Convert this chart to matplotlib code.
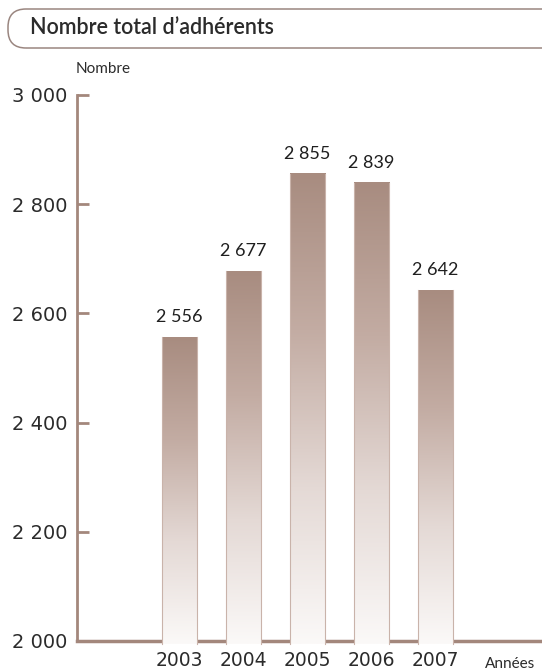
import numpy as np
import matplotlib.pyplot as plt
from matplotlib.patches import FancyBboxPatch, Rectangle
from matplotlib.transforms import IdentityTransform
from matplotlib.colors import LinearSegmentedColormap

# données
years = ['2003', '2004', '2005', '2006', '2007']
members = [2556, 2677, 2855, 2839, 2642]
yticks = [2000, 2200, 2400, 2600, 2800, 3000]
ytick_labels = ['2 000', '2 200', '2 400', '2 600', '2 800', '3 000']

brown = '#a3877c'
text_col = '#2b2b2b'

fig = plt.figure(figsize=(5.42, 6.72), dpi=100)
ax = fig.add_axes([77 / 542, 1 - 641 / 672, 463 / 542, 546 / 672])

# dégradé des barres (haut foncé -> bas presque blanc)
cmap = LinearSegmentedColormap.from_list('bar', ['#fbf9f8', '#e4d9d5', '#c3aca3', '#a88c80'])
grad = np.linspace(0, 1, 256).reshape(-1, 1)
x = np.arange(len(years))
w = 0.547
for xi, v in zip(x, members):
    ax.imshow(grad, cmap=cmap, origin='lower', aspect='auto',
              extent=[xi - w / 2, xi + w / 2, 1994, v], zorder=3, clip_on=False)
    # bords latéraux
    for ex in (xi - w / 2, xi + w / 2):
        ax.plot([ex, ex], [1994, v], color='#c9b3aa', lw=0.8, zorder=4, clip_on=False)
    ax.annotate(f'{v:,}'.replace(',', ' '), (xi, v), xytext=(0, 11),
                textcoords='offset points', ha='center', va='baseline',
                fontsize=13, family='Lato', color='#1f1f1f')

ax.set_xlim(-1.602, -1.602 + 463 / 64)
ax.set_ylim(2000, 3000)

for s in ['top', 'right']:
    ax.spines[s].set_visible(False)
ax.spines['left'].set_color(brown)
ax.spines['left'].set_linewidth(2)
ax.spines['bottom'].set_color(brown)
ax.spines['bottom'].set_linewidth(2.5)
ax.spines['bottom'].set_zorder(1)

ax.set_yticks(yticks)
ax.set_yticklabels(ytick_labels)
ax.tick_params(axis='y', direction='in', length=8.5, width=2, color=brown,
               pad=7, labelsize=14, labelcolor=text_col)
ax.set_xticks(x)
ax.set_xticklabels(years)
ax.tick_params(axis='x', length=0, pad=7, labelsize=13.5, labelcolor=text_col)
for lab in ax.get_yticklabels() + ax.get_xticklabels():
    lab.set_family('DejaVu Sans')

# titre dans un cadre arrondi
box = FancyBboxPatch((8, 672 - 48), 580, 39, boxstyle='round,pad=0,rounding_size=18',
                     transform=IdentityTransform(), facecolor='none',
                     edgecolor='#9a8680', lw=1.1)
fig.add_artist(box)
fig.text(30 / 542, 1 - 34 / 672, 'Nombre total d\u2019adhérents', fontsize=15.5,
         family='Lato', weight='semibold', color=text_col, va='baseline')

fig.text(76 / 542, 1 - 73 / 672, 'Nombre', fontsize=11, family='Lato',
         color=text_col, va='baseline')
fig.text(485 / 542, 1 - 668 / 672, 'Années', fontsize=11, family='Lato',
         color=text_col, va='baseline')

fig.savefig('out.png', dpi=100)
